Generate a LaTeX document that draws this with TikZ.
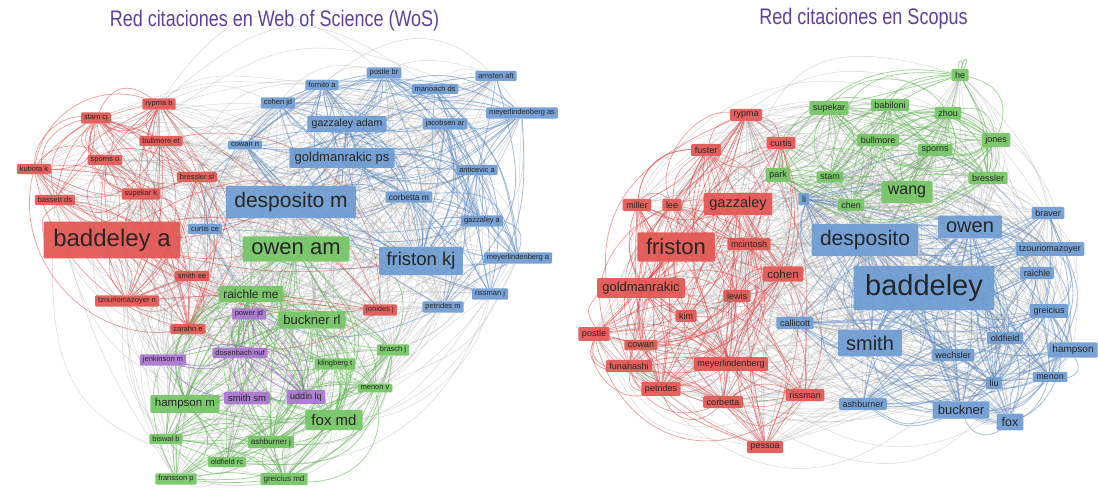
\documentclass[tikz,border=0pt]{standalone}
\usepackage{fontspec}
\setmainfont{Liberation Sans}
\setsansfont{Liberation Sans}
\newfontfamily\ttlfont[FakeStretch=0.8]{Liberation Sans}
\pgfdeclarelayer{bg}
\pgfsetlayers{bg,main}
\definecolor{nred}{RGB}{226,86,82}
\definecolor{nblue}{RGB}{110,156,210}
\definecolor{ngreen}{RGB}{116,197,100}
\definecolor{npurple}{RGB}{170,118,208}
\definecolor{ered}{RGB}{228,64,62}
\definecolor{eblue}{RGB}{92,140,200}
\definecolor{egreen}{RGB}{96,186,82}
\definecolor{epurple}{RGB}{150,92,200}
\definecolor{egray}{RGB}{160,160,160}
\definecolor{ttlc}{RGB}{96,64,156}
\newcommand\myfs[1]{\fontsize{#1}{#1}\selectfont}
% prefix, lo, hi, count, style, max bend
\newcommand\randedges[6]{%
 \foreach \rdK in {1,...,#4}{%
  \pgfmathtruncatemacro\rdN{#3-#2+1}%
  \pgfmathrandominteger{\rdA}{0}{\rdN-1}%
  \pgfmathrandominteger{\rdD}{1}{\rdN-1}%
  \pgfmathtruncatemacro\rdI{#2+\rdA}%
  \pgfmathtruncatemacro\rdJ{#2+mod(\rdA+\rdD,\rdN)}%
  \pgfmathrandominteger{\rdE}{-#6}{#6}%
  \pgfmathrandominteger{\rdL}{90}{150}%
  \draw[#5] (#1\rdI) to[bend left=\rdE, looseness=\rdL/100] (#1\rdJ);
 }}
\tikzset{
 sz/.style={font=\myfs{#1}, inner xsep=#1*0.4pt, inner ysep=#1*0.3pt},
 nb/.style={rectangle, rounded corners=1.2pt, text=black!85, fill opacity=0.93, text opacity=1, sz=7.5},
 nr/.style={nb, fill=nred},
 nbl/.style={nb, fill=nblue},
 ng/.style={nb, fill=ngreen},
 np/.style={nb, fill=npurple},
 mr/.style={nr, sz=9},
 mbl/.style={nbl, sz=9},
 mg/.style={ng, sz=9},
 ge/.style={draw=egray, line width=0.5pt, opacity=0.4},
 re/.style={draw=ered, line width=0.65pt, opacity=0.55},
 be/.style={draw=eblue, line width=0.8pt, opacity=0.55},
 gre/.style={draw=egreen, line width=0.75pt, opacity=0.6},
 pe/.style={draw=epurple, line width=0.75pt, opacity=0.6},
 ttl/.style={font=\ttlfont\myfs{22.5}, text=ttlc, inner sep=0pt}
}
\begin{document}
\begin{tikzpicture}[x=1pt,y=-1pt]
\useasboundingbox (0,0) rectangle (1098,502);
\begin{pgfonlayer}{bg}
\fill[white] (0,0) rectangle (1098,502);
\end{pgfonlayer}
\node[ttl] (t1) at (274.5,21) {Red citaciones en Web of Science (WoS)};
\node[ttl] (t2) at (863.5,19) {Red citaciones en Scopus};
% ---------- WoS ----------
\node[nr] (L1) at (159,104) {rypma b};
\node[nr] (L2) at (96,118) {stam cj};
\node[nr] (L3) at (161,141) {bullmore et};
\node[nr] (L4) at (105,160) {sporns o};
\node[nr] (L5) at (34,169) {kubota k};
\node[nr] (L6) at (55,200) {bassett ds};
\node[nr] (L7) at (141,194) {supekar k};
\node[nr] (L8) at (197,177) {bressler sl};
\node[nr, sz=24] (L9) at (112,240) {baddeley a};
\node[nr] (L10) at (192,276) {smith ee};
\node[nr] (L11) at (127,301) {tzouriomazoyer n};
\node[nr] (L12) at (188,329) {zarahn e};
\node[nr] (L13) at (380,310) {jonides j};
\node[nbl] (L14) at (245,145) {cowan n};
\node[nbl] (L15) at (205,229) {curtis ce};
\node[nbl, sz=21] (L16) at (291,202) {desposito m};
\node[nbl, sz=13] (L17) at (342,158) {goldmanrakic ps};
\node[nbl, sz=10.5] (L18) at (347,124) {gazzaley adam};
\node[nbl] (L19) at (278,103) {cohen jd};
\node[nbl] (L20) at (322,85) {fornito a};
\node[nbl] (L21) at (384,73) {postle br};
\node[nbl] (L22) at (435,89) {manoach ds};
\node[nbl] (L23) at (496,76) {arnsten aft};
\node[nbl] (L24) at (522,113) {meyerlindenberg as};
\node[nbl] (L25) at (445,124) {jacobsen ar};
\node[nbl] (L26) at (477,170) {anticevic a};
\node[nbl, sz=8.5] (L27) at (409,197) {corbetta m};
\node[nbl] (L28) at (482,221) {gazzaley a};
\node[nbl, sz=18.5] (L29) at (421,261) {friston kj};
\node[nbl] (L30) at (518,258) {meyerlindenberg a};
\node[nbl] (L31) at (490,294) {rissman j};
\node[nbl] (L32) at (443,307) {petrides m};
\node[ng, sz=12] (L33) at (251,294) {raichle me};
\node[ng, sz=22] (L34) at (296,249) {owen am};
\node[ng, sz=13] (L35) at (312,320) {buckner rl};
\node[ng] (L36) at (335,364) {klingberg t};
\node[ng] (L37) at (393,350) {brasch j};
\node[ng] (L38) at (375,388) {menon v};
\node[ng, sz=15] (L39) at (334,420) {fox md};
\node[ng, sz=8] (L40) at (271,442) {ashburner j};
\node[ng, sz=11.5] (L41) at (185,404) {hampson m};
\node[ng] (L42) at (166,439) {biswal b};
\node[ng] (L43) at (227,462) {oldfield rc};
\node[ng] (L44) at (176,479) {fransson p};
\node[ng, sz=8] (L45) at (284,479) {greicius md};
\node[np] (L46) at (249,314) {power jd};
\node[np] (L47) at (240,353) {dosenbach nuf};
\node[np] (L48) at (163,360) {jenkinson m};
\node[np, sz=9.5] (L49) at (247,398) {smith sm};
\node[np, sz=9] (L50) at (306,397) {uddin lq};
% ---------- Scopus ----------
\node[mr] (R1) at (746,115) {rypma};
\node[mr] (R2) at (781,143) {curtis};
\node[mr] (R3) at (706,150) {fuster};
\node[mr] (R4) at (637,205) {miller};
\node[mr] (R5) at (672,205) {lee};
\node[nr, sz=14.5] (R6) at (738,204) {gazzaley};
\node[nr, sz=22] (R7) at (676,247) {friston};
\node[mr] (R8) at (749,244) {mcintosh};
\node[nr, sz=11.5] (R9) at (783,274) {cohen};
\node[nr, sz=13] (R10) at (641,288) {goldmanrakic};
\node[mr] (R11) at (737,296) {lewis};
\node[mr] (R12) at (686,316) {kim};
\node[mr] (R13) at (594,334) {postle};
\node[mr] (R14) at (641,345) {cowan};
\node[mr] (R15) at (629,366) {funahashi};
\node[mr] (R16) at (731,364) {meyerlindenberg};
\node[mr] (R17) at (661,389) {petrides};
\node[mr] (R18) at (723,402) {corbetta};
\node[mr] (R19) at (805,395) {rissman};
\node[mr] (R20) at (765,447) {pessoa};
\node[mg] (R21) at (778,175) {park};
\node[mg] (R22) at (830,177) {stam};
\node[mg] (R23) at (851,205) {chen};
\node[mg] (R24) at (829,108) {supekar};
\node[mg] (R25) at (890,105) {babiloni};
\node[mg] (R26) at (960,75) {he};
\node[mg] (R27) at (948,113) {zhou};
\node[mg] (R28) at (878,140) {bullmore};
\node[mg] (R29) at (935,150) {sporns};
\node[mg] (R30) at (996,140) {jones};
\node[mg] (R31) at (988,178) {bressler};
\node[ng, sz=16] (R32) at (907,192) {wang};
\node[mbl] (R33) at (804,199) {li};
\node[nbl, sz=20] (R34) at (970,227) {owen};
\node[mbl] (R35) at (1048,213) {braver};
\node[nbl, sz=21] (R36) at (865,240) {desposito};
\node[mbl] (R37) at (795,323) {callicott};
\node[nbl, sz=29] (R38) at (924,288) {baddeley};
\node[mbl] (R39) at (1050,249) {tzouriomazoyer};
\node[mbl] (R40) at (1037,273) {raichle};
\node[mbl] (R41) at (1049,311) {greicius};
\node[nbl, sz=20] (R42) at (870,343) {smith};
\node[mbl] (R43) at (1005,338) {oldfield};
\node[nbl, sz=10] (R44) at (1073,350) {hampson};
\node[mbl] (R45) at (953,355) {wechsler};
\node[mbl] (R46) at (1050,377) {menon};
\node[mbl] (R47) at (994,383) {liu};
\node[mbl] (R48) at (863,404) {ashburner};
\node[nbl, sz=13] (R49) at (961,410) {buckner};
\node[nbl, sz=12.5] (R50) at (1010,422) {fox};
% ---------- edges ----------
\begin{pgfonlayer}{bg}
\pgfmathsetseed{4242}
\randedges{L}{1}{50}{520}{ge}{48}
\randedges{R}{1}{50}{580}{ge}{48}
\randedges{L}{1}{13}{80}{re}{55}
\randedges{L}{14}{32}{110}{be}{50}
\randedges{L}{33}{45}{80}{gre}{55}
\randedges{L}{33}{50}{30}{gre}{50}
\randedges{L}{46}{50}{14}{pe}{50}
\randedges{R}{1}{20}{150}{re}{60}
\randedges{R}{21}{32}{80}{gre}{55}
\randedges{R}{33}{50}{120}{be}{55}
\foreach \t in {13,16,29,34,35}{\draw[re] (L9) to[bend right=10] (L\t);}
\foreach \t in {34,38,42,49}{\draw[be, line width=1.6pt] (R36) to[bend left=8] (R\t);}
\foreach \t in {38,42,49,50,46}{\draw[be, line width=1.4pt] (R34) to[bend right=10] (R\t);}
\draw[gre] (R26) to[out=80,in=60,looseness=14] (R26);
\draw[gre] (R26) to[out=100,in=75,looseness=10] (R26);
\end{pgfonlayer}
\end{tikzpicture}
\end{document}
